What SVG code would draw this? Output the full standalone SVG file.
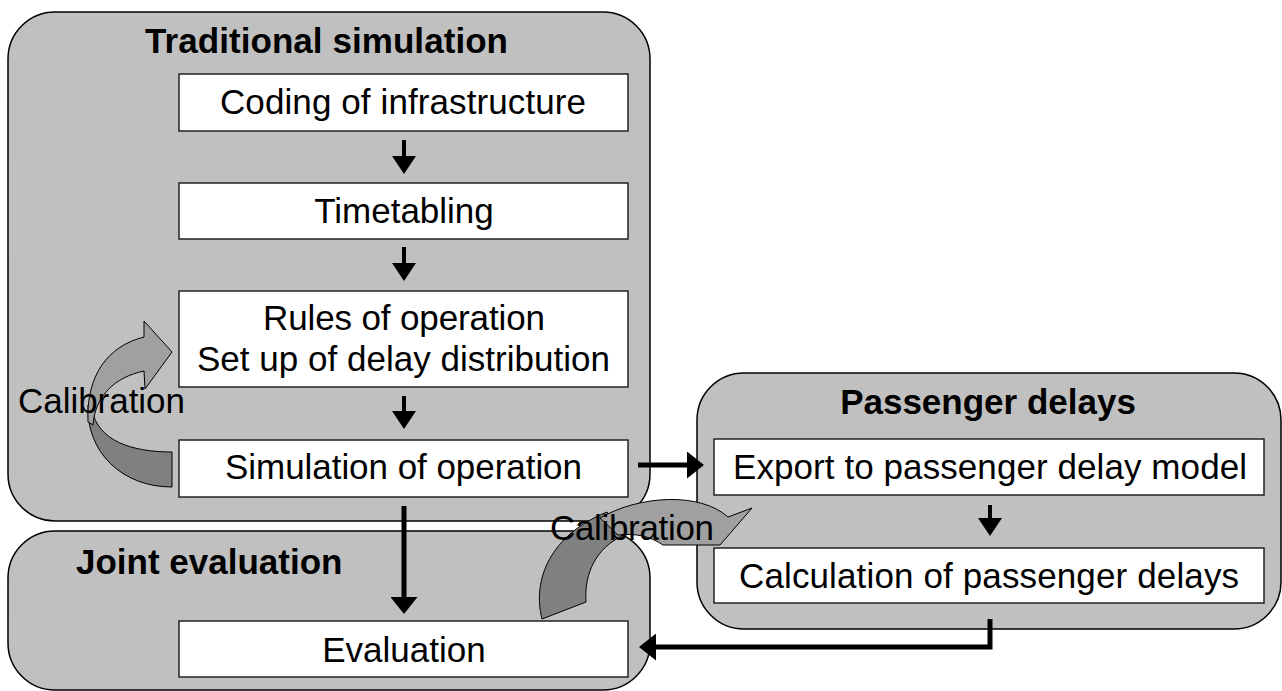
<svg xmlns="http://www.w3.org/2000/svg" width="1282" height="691" viewBox="0 0 1282 691">
<defs>
<style>
.cont{fill:#c0c0c0;stroke:#000;stroke-width:1.5}
.box{fill:#fff;stroke:#222;stroke-width:1.5}
.t{font-family:"Liberation Sans",Arial,sans-serif;font-size:35px;fill:#000}
.h{font-family:"Liberation Sans",Arial,sans-serif;font-size:35px;font-weight:bold;fill:#000}
.sm{stroke:#000;stroke-width:4;fill:none}
.big{stroke:#000;stroke-width:5;fill:none}
.lt{fill:#a0a0a0;stroke:#000;stroke-width:1}
.dk{fill:#808080;stroke:#000;stroke-width:1}
</style>
<marker id="ahs" markerUnits="userSpaceOnUse" viewBox="0 0 18 24" refX="0" refY="12" markerWidth="18" markerHeight="24" orient="auto"><path d="M0,0 L18,12 L0,24 z" fill="#000"/></marker>
<marker id="ahb" markerUnits="userSpaceOnUse" viewBox="0 0 17 27" refX="0" refY="13.5" markerWidth="17" markerHeight="27" orient="auto"><path d="M0,0 L17,13.5 L0,27 z" fill="#000"/></marker>
</defs>

<g id="traditional-simulation">
<rect class="cont" x="8" y="12" width="642" height="509" rx="47"/>
<text class="h" x="145" y="53" textLength="363" lengthAdjust="spacing">Traditional simulation</text>
</g>
<g id="joint-evaluation">
<rect class="cont" x="8" y="531" width="642" height="159" rx="47"/>
<text class="h" x="76" y="574">Joint evaluation</text>
</g>
<g id="passenger-delays">
<rect class="cont" x="697" y="373" width="584" height="256" rx="47"/>
<text class="h" x="988" y="414" text-anchor="middle">Passenger delays</text>
</g>

<g id="coding">
<rect class="box" x="179" y="74" width="449" height="57"/>
<text class="t" x="220" y="114" textLength="366" lengthAdjust="spacing">Coding of infrastructure</text>
</g>
<g id="timetabling">
<rect class="box" x="179" y="183" width="449" height="56"/>
<text class="t" x="404" y="223" text-anchor="middle">Timetabling</text>
</g>
<g id="rules">
<rect class="box" x="179" y="291" width="449" height="96"/>
<text class="t" x="263" y="330" textLength="282" lengthAdjust="spacing">Rules of operation</text>
<text class="t" x="197" y="371" textLength="413" lengthAdjust="spacing">Set up of delay distribution</text>
</g>
<g id="simulation">
<rect class="box" x="179" y="440" width="449" height="57"/>
<text class="t" x="225" y="479" textLength="357" lengthAdjust="spacing">Simulation of operation</text>
</g>
<g id="evaluation">
<rect class="box" x="179" y="621" width="449" height="56"/>
<text class="t" x="404" y="662" text-anchor="middle">Evaluation</text>
</g>
<g id="export">
<rect class="box" x="714" y="439" width="550" height="56"/>
<text class="t" x="733" y="479" textLength="514" lengthAdjust="spacing">Export to passenger delay model</text>
</g>
<g id="calculation">
<rect class="box" x="714" y="548" width="550" height="55"/>
<text class="t" x="739" y="588" textLength="500" lengthAdjust="spacing">Calculation of passenger delays</text>
</g>

<g id="connectors">
<line class="sm" x1="404" y1="140" x2="404" y2="156" marker-end="url(#ahs)"/>
<line class="sm" x1="404" y1="247" x2="404" y2="263" marker-end="url(#ahs)"/>
<line class="sm" x1="404" y1="396" x2="404" y2="411" marker-end="url(#ahs)"/>
<line class="sm" x1="990" y1="505" x2="990" y2="518" marker-end="url(#ahs)"/>
<line class="big" x1="638" y1="465" x2="687" y2="465" marker-end="url(#ahb)"/>
<line class="big" x1="404" y1="506" x2="404" y2="597" marker-end="url(#ahb)"/>
<polyline class="big" points="990,619 990,647 656,647" marker-end="url(#ahb)"/>
</g>

<g id="calibration-left">
<path class="dk" d="M88,405 C86,452 122,487 172,487 L172,452 C130,452 98,440 92,410 Z"/>
<path class="lt" d="M88,422 C86,375 108,346 144,337 L144,321 L172,352 L145,389 L144,371 C115,377 95,396 93,425 Z"/>
<text class="t" x="18" y="413" textLength="167" lengthAdjust="spacing">Calibration</text>
</g>
<g id="calibration-middle">
<path class="dk" d="M542,619 C532,580 550,535 607,512 L622,536 C597,548 584,572 586,602 Z"/>
<path class="lt" d="M600,518 C640,495 700,492 728,517 L752,508 L720,545 L663,545 C650,536 635,533 618,535 Z"/>
<text class="t" x="550" y="540" textLength="164" lengthAdjust="spacing">Calibration</text>
</g>
</svg>
